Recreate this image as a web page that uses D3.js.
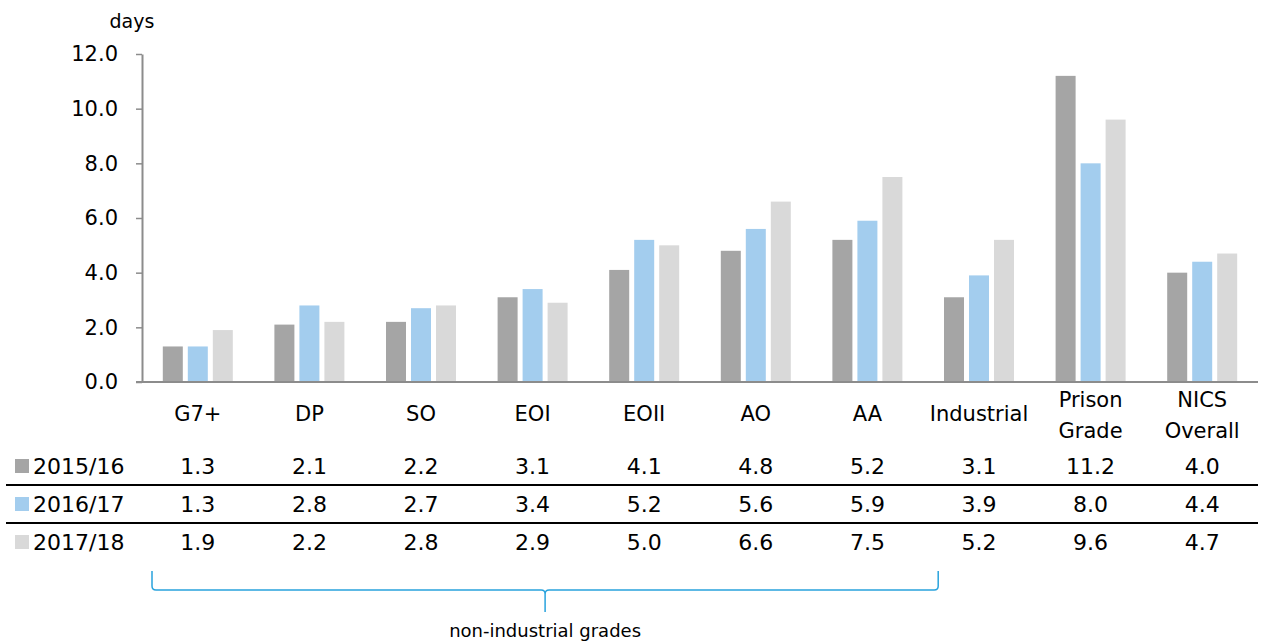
<!DOCTYPE html>
<html>
<head>
<meta charset="utf-8">
<script src="https://cdn.jsdelivr.net/npm/d3@7"></script>
<style>
  html, body { margin: 0; padding: 0; background: #fff; }
  svg { display: block; font-family: "DejaVu Sans", sans-serif; }
</style>
</head>
<body>
<svg id="chart" width="1270" height="642"></svg>
<script>
// Sickness absence: average working days lost per staff year, by grade
const categories = ["G7+", "DP", "SO", "EOI", "EOII", "AO", "AA", "Industrial", "Prison Grade", "NICS Overall"];
const categoryLines = [["G7+"], ["DP"], ["SO"], ["EOI"], ["EOII"], ["AO"], ["AA"], ["Industrial"], ["Prison", "Grade"], ["NICS", "Overall"]];
const seriesNames = ["2015/16", "2016/17", "2017/18"];
const values2015 = [1.3, 2.1, 2.2, 3.1, 4.1, 4.8, 5.2, 3.1, 11.2, 4.0];
const values2016 = [1.3, 2.8, 2.7, 3.4, 5.2, 5.6, 5.9, 3.9, 8.0, 4.4];
const values2017 = [1.9, 2.2, 2.8, 2.9, 5.0, 6.6, 7.5, 5.2, 9.6, 4.7];
const yTicks = [0, 2, 4, 6, 8, 10, 12];
const braceCategories = ["G7+", "AA"];
const braceLabel = "non-industrial grades";
const unitLabel = "days";

const seriesValues = [values2015, values2016, values2017];
const colors = ["#a5a5a5", "#a3cdee", "#d9d9d9"];
const fontFamily = "'DejaVu Sans', sans-serif";

const svg = d3.select("#chart");
const plot = { left: 142, right: 1258, top: 54, bottom: 382 };

const x = d3.scaleBand().domain(categories).range([plot.left, plot.right]).padding(0);
const groupWidth = 70;
const x1 = d3.scaleBand().domain(seriesNames).range([0, groupWidth]).paddingInner(0.2).paddingOuter(0);
const y = d3.scaleLinear().domain([0, 12]).range([plot.bottom, plot.top]);

// bars
seriesNames.forEach((s, si) => {
  svg.append("g")
    .selectAll("rect")
    .data(categories.map((c, i) => ({ c, v: seriesValues[si][i] })))
    .join("rect")
    .attr("x", d => x(d.c) + (x.bandwidth() - groupWidth) / 2 + x1(s))
    .attr("y", d => y(d.v))
    .attr("width", x1.bandwidth())
    .attr("height", d => y(0) - y(d.v))
    .attr("fill", colors[si]);
});

// y axis
const yAxis = svg.append("g")
  .attr("transform", `translate(${plot.left},0)`)
  .call(d3.axisLeft(y).tickValues(yTicks).tickFormat(d3.format(".1f")).tickSize(6).tickSizeOuter(0));
yAxis.select(".domain").attr("stroke", "#8c8c8c").attr("stroke-width", 2);
yAxis.selectAll(".tick line").attr("stroke", "#8c8c8c").attr("stroke-width", 1.5);
yAxis.selectAll(".tick text")
  .attr("x", -24)
  .attr("fill", "#000")
  .style("font-size", "21px")
  .style("font-family", fontFamily);

// baseline
svg.append("line")
  .attr("x1", plot.left - 6).attr("x2", plot.right)
  .attr("y1", y(0)).attr("y2", y(0))
  .attr("stroke", "#8c8c8c").attr("stroke-width", 2);

// unit label
svg.append("text")
  .attr("x", 132).attr("y", 28)
  .attr("text-anchor", "middle")
  .style("font-size", "19px")
  .text(unitLabel);

// category labels
categoryLines.forEach((lines, i) => {
  const cx = x(categories[i]) + x.bandwidth() / 2;
  const t = svg.append("text")
    .attr("text-anchor", "middle")
    .style("font-size", "21px");
  if (lines.length === 1) {
    t.append("tspan").attr("x", cx).attr("y", 421).text(lines[0]);
  } else {
    t.append("tspan").attr("x", cx).attr("y", 407).text(lines[0]);
    t.append("tspan").attr("x", cx).attr("y", 438).text(lines[1]);
  }
});

// data table rows
const rowY = [474, 512, 550];
seriesNames.forEach((s, si) => {
  svg.append("rect")
    .attr("x", 15).attr("y", rowY[si] - 15)
    .attr("width", 14).attr("height", 14)
    .attr("fill", colors[si]);
  svg.append("text")
    .attr("x", 33).attr("y", rowY[si])
    .style("font-size", "22px")
    .text(s);
  svg.append("g")
    .selectAll("text")
    .data(categories.map((c, i) => ({ c, v: seriesValues[si][i] })))
    .join("text")
    .attr("x", d => x(d.c) + x.bandwidth() / 2)
    .attr("y", rowY[si])
    .attr("text-anchor", "middle")
    .style("font-size", "22px")
    .text(d => d3.format(".1f")(d.v));
});

// row separators
[485, 523].forEach(ly => {
  svg.append("line")
    .attr("x1", 6).attr("x2", plot.right)
    .attr("y1", ly).attr("y2", ly)
    .attr("stroke", "#000").attr("stroke-width", 2);
});

// brace under the non-industrial grades
const bx0 = x(braceCategories[0]) + 10;
const bx1 = x(braceCategories[1]) + x.bandwidth() + 15;
const bmid = (bx0 + bx1) / 2;
const bTop = 571, bLine = 590, bTip = 612, r = 4;
const bracePath = d3.path();
bracePath.moveTo(bx0, bTop);
bracePath.lineTo(bx0, bLine - r);
bracePath.quadraticCurveTo(bx0, bLine, bx0 + r, bLine);
bracePath.lineTo(bmid - r, bLine);
bracePath.quadraticCurveTo(bmid, bLine, bmid, bLine + r);
bracePath.lineTo(bmid, bTip);
bracePath.moveTo(bmid, bLine + r);
bracePath.quadraticCurveTo(bmid, bLine, bmid + r, bLine);
bracePath.lineTo(bx1 - r, bLine);
bracePath.quadraticCurveTo(bx1, bLine, bx1, bLine - r);
bracePath.lineTo(bx1, bTop);
svg.append("path")
  .attr("d", bracePath.toString())
  .attr("fill", "none")
  .attr("stroke", "#29a3dd")
  .attr("stroke-width", 1.5);

svg.append("text")
  .attr("x", bmid).attr("y", 637)
  .attr("text-anchor", "middle")
  .style("font-size", "18px")
  .text(braceLabel);
</script>
</body>
</html>
